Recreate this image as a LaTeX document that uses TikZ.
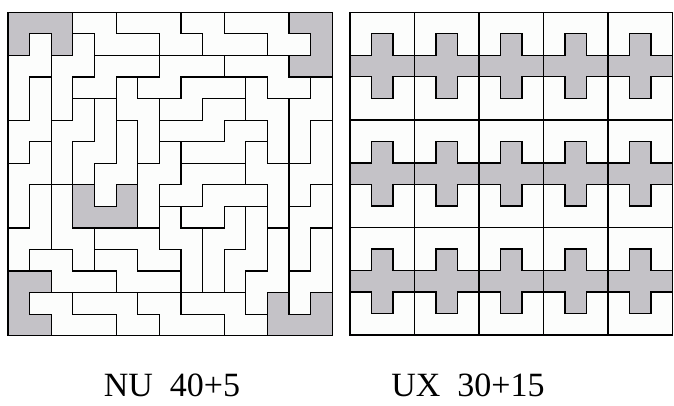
\documentclass[tikz,border=0pt]{standalone}
\usepackage{fontspec}
\setmainfont{Liberation Serif}
\definecolor{tilegray}{RGB}{196,194,199}
\definecolor{tilewhite}{RGB}{252,253,252}
\tikzset{
  piece/.style={draw=black, line width=1.2pt, fill=tilewhite},
  upiece/.style={draw=black, line width=1.2pt, fill=tilegray},
  frame/.style={draw=black, line width=1.3pt},
  caption/.style={font=\fontsize{34}{40}\selectfont, inner sep=0pt}
}
% horizontal N: row r, top cells a1..a2, bottom row cells b1..b2
\newcommand\Hpiece[5]{\draw[piece] (#2,#1) -- ({#3+1},#1) -- ({#3+1},{#1+1}) -- ({#5+1},{#1+1}) -- ({#5+1},{#1+2}) -- (#4,{#1+2}) -- (#4,{#1+1}) -- (#2,{#1+1}) -- cycle;}
% vertical N: column c rows a1..a2, column c+1 rows b1..b2
\newcommand\Vpiece[5]{\draw[piece] (#1,#2) -- (#1,{#3+1}) -- ({#1+1},{#3+1}) -- ({#1+1},{#5+1}) -- ({#1+2},{#5+1}) -- ({#1+2},#4) -- ({#1+1},#4) -- ({#1+1},#2) -- cycle;}
\begin{document}
\begin{tikzpicture}[x=1pt,y=-1pt,line join=miter]
\useasboundingbox (0,0) rectangle (674,405);
% ---------------- left square: NU 40+5 ----------------
\begin{scope}[shift={(8,12.3)}, x=21.62pt, y=-21.56pt]
  \Hpiece{0}{3}{4}{4}{6}
  \Hpiece{0}{5}{7}{7}{8}
  \Hpiece{0}{8}{9}{9}{11}
  \Hpiece{0}{10}{12}{12}{13}
  \Vpiece{2}{2}{4}{1}{2}
  \Hpiece{2}{4}{6}{3}{4}
  \Vpiece{0}{2}{4}{1}{2}
  \Vpiece{0}{5}{6}{3}{5}
  \Hpiece{2}{7}{9}{6}{7}
  \Hpiece{2}{10}{12}{12}{13}
  \Hpiece{3}{8}{10}{7}{8}
  \Vpiece{5}{3}{4}{4}{6}
  \Hpiece{4}{9}{10}{7}{9}
  \Vpiece{4}{7}{8}{5}{7}
  \Vpiece{2}{5}{7}{4}{5}
  \Vpiece{3}{6}{7}{4}{6}
  \Vpiece{0}{7}{9}{6}{7}
  \Vpiece{0}{10}{11}{8}{10}
  \Vpiece{2}{8}{10}{10}{11}
  \Hpiece{11}{1}{2}{2}{4}
  \Hpiece{13}{1}{2}{2}{4}
  \Vpiece{6}{7}{9}{6}{7}
  \Hpiece{7}{8}{10}{7}{8}
  \Hpiece{5}{10}{11}{8}{10}
  \Vpiece{11}{3}{4}{4}{6}
  \Vpiece{13}{4}{6}{3}{4}
  \Vpiece{13}{7}{8}{5}{7}
  \Vpiece{13}{9}{11}{8}{9}
  \Vpiece{13}{12}{13}{10}{12}
  \Vpiece{11}{6}{7}{7}{9}
  \Vpiece{9}{10}{12}{9}{10}
  \Hpiece{8}{9}{11}{8}{9}
  \Vpiece{10}{11}{12}{9}{11}
  \Vpiece{11}{12}{13}{10}{12}
  \Hpiece{13}{8}{10}{10}{11}
  \Hpiece{13}{3}{5}{5}{6}
  \Hpiece{13}{6}{7}{7}{9}
  \Hpiece{10}{4}{6}{6}{7}
  \Hpiece{11}{4}{5}{5}{7}
  \Vpiece{7}{9}{10}{10}{12}
  % U pentominoes
  \draw[upiece] (0,0) -- (3,0) -- (3,2) -- (2,2) -- (2,1) -- (1,1) -- (1,2) -- (0,2) -- cycle;
  \draw[upiece] (13,0) -- (15,0) -- (15,3) -- (13,3) -- (13,2) -- (14,2) -- (14,1) -- (13,1) -- cycle;
  \draw[upiece] (3,8) -- (4,8) -- (4,9) -- (5,9) -- (5,8) -- (6,8) -- (6,10) -- (3,10) -- cycle;
  \draw[upiece] (0,12) -- (2,12) -- (2,13) -- (1,13) -- (1,14) -- (2,14) -- (2,15) -- (0,15) -- cycle;
  \draw[upiece] (12,13) -- (13,13) -- (13,14) -- (14,14) -- (14,13) -- (15,13) -- (15,15) -- (12,15) -- cycle;
  \draw[frame] (0,0) rectangle (15,15);
\end{scope}
% ---------------- right square: UX 30+15 ----------------
\begin{scope}[shift={(350,12.3)}, x=21.5pt, y=-21.52pt]
  \foreach \bx in {0,...,4}{
    \foreach \by in {0,...,2}{
      \begin{scope}[shift={({3*\bx},{5*\by})}]
        \draw[piece] (0,0) rectangle (3,5);
        \draw[upiece] (1,1) -- (2,1) -- (2,2) -- (3,2) -- (3,3) -- (2,3) -- (2,4) -- (1,4) -- (1,3) -- (0,3) -- (0,2) -- (1,2) -- cycle;
      \end{scope}
    }
  }
  \draw[frame] (0,0) rectangle (15,15);
\end{scope}
% ---------------- captions ----------------
\node[caption, anchor=base] (capL) at (172,396) {NU\hspace{0.5em}40+5};
\node[caption, anchor=base] (capR) at (468,396) {UX\hspace{0.5em}30+15};
\end{tikzpicture}
\end{document}
